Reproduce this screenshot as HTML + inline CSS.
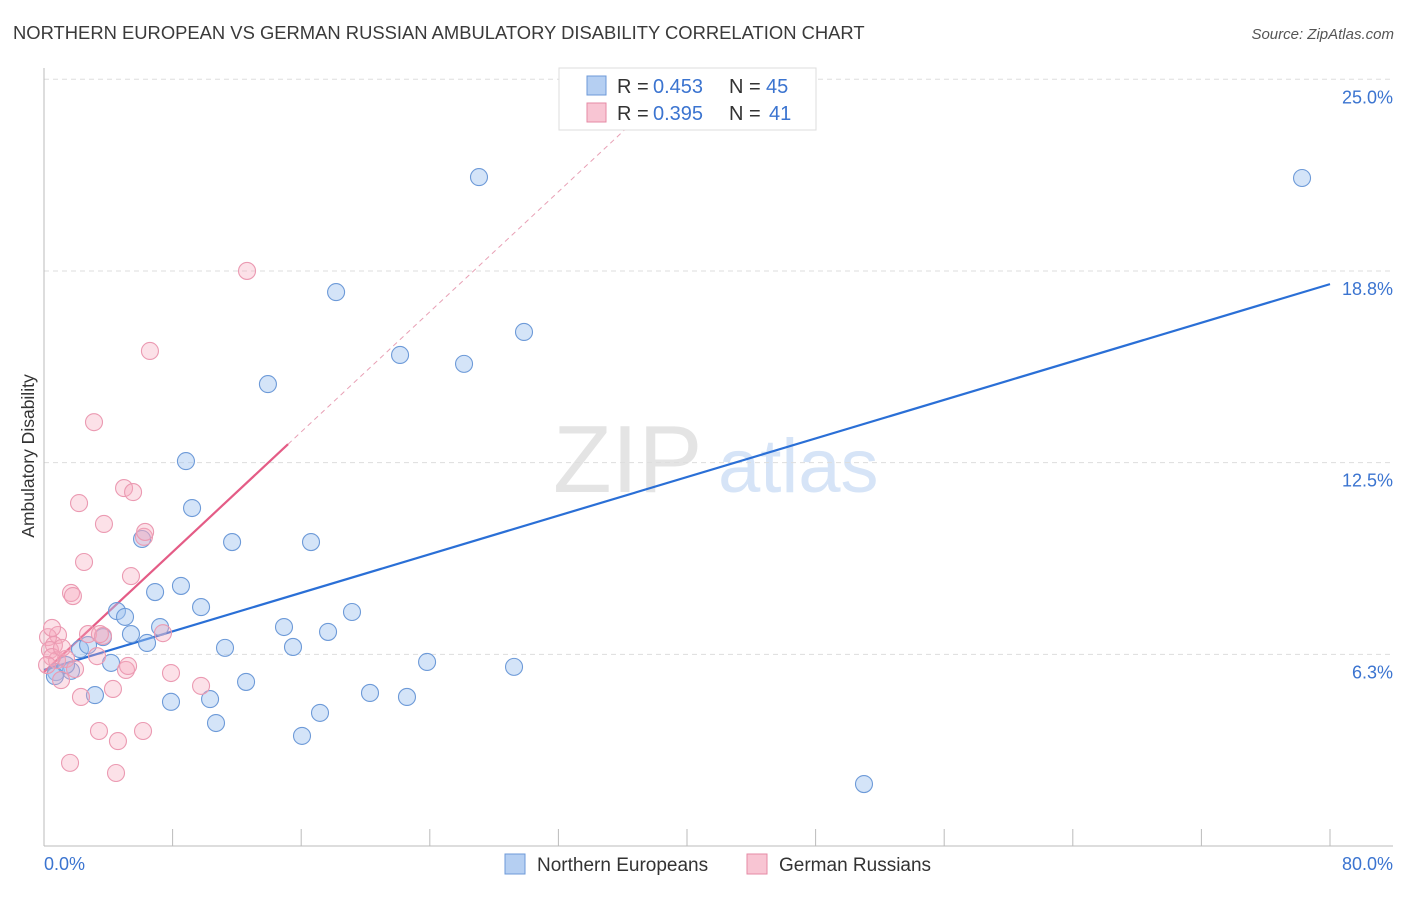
<!DOCTYPE html>
<html><head><meta charset="utf-8"><style>
body{margin:0;background:#fff;font-family:"Liberation Sans",sans-serif}
svg text{font-family:"Liberation Sans",sans-serif}
</style></head><body>
<svg id="chart" width="1406" height="892" viewBox="0 0 1406 892" xmlns="http://www.w3.org/2000/svg">
<text x="13" y="39" font-size="18.4" fill="#3a3a3a">NORTHERN EUROPEAN VS GERMAN RUSSIAN AMBULATORY DISABILITY CORRELATION CHART</text>
<text x="1394" y="39" font-size="15" fill="#555" font-style="italic" text-anchor="end">Source: ZipAtlas.com</text>
<g>
<text x="553" y="492" font-size="96" font-family="Liberation Serif" fill="#e4e4e4">ZIP</text>
<text x="718" y="492" font-size="76" fill="#d6e4f7">atlas</text>
</g>
<g id="grid"></g>
<g id="axes"></g>
<g id="lines"></g>
<g id="points"></g>
<text transform="translate(34,456) rotate(-90)" font-size="17.5" fill="#333" text-anchor="middle">Ambulatory Disability</text>
<g>
<rect x="559" y="68" width="257" height="62" fill="#fff" stroke="#ddd"/>
<rect x="587" y="76" width="19" height="19" fill="#b5cff2" stroke="#6d9ad8"/>
<text x="617" y="93" font-size="20" fill="#333">R =</text>
<text x="653" y="93" font-size="20" fill="#3b74d0">0.453</text>
<text x="729" y="93" font-size="20" fill="#333">N =</text>
<text x="766" y="93" font-size="20" fill="#3b74d0">45</text>
<rect x="587" y="103" width="19" height="19" fill="#f8c5d3" stroke="#e68aa5"/>
<text x="617" y="120" font-size="20" fill="#333">R =</text>
<text x="653" y="120" font-size="20" fill="#3b74d0">0.395</text>
<text x="729" y="120" font-size="20" fill="#333">N =</text>
<text x="769" y="120" font-size="20" fill="#3b74d0">41</text>
</g>
<g>
<rect x="505" y="854" width="20" height="20" fill="#b5cff2" stroke="#6d9ad8"/>
<text x="537" y="871" font-size="19" fill="#333">Northern Europeans</text>
<rect x="747" y="854" width="20" height="20" fill="#f8c5d3" stroke="#e68aa5"/>
<text x="779" y="871" font-size="19" fill="#333">German Russians</text>
</g>
</svg>
<script>
const yTicks=[6.25,12.5,18.75,25];
const yTickLabels=["6.3%","12.5%","18.8%","25.0%"];
const xTickCount=10;
const xLabels=["0.0%","80.0%"];
const blueX=[27.06,78.26,18.17,29.86,22.15,26.13,13.93,8.83,9.21,11.70,16.61,6.10,8.52,6.91,9.77,4.54,5.04,19.16,14.93,7.22,17.67,5.41,6.41,11.26,15.49,3.67,2.24,2.74,4.17,23.83,29.24,0.75,1.68,1.37,12.57,3.17,10.33,7.90,20.28,22.58,17.17,10.70,16.05,51.01,0.68];
const blueY=[21.81,21.78,18.06,16.76,16.01,15.72,15.06,12.55,11.02,9.91,9.91,10.01,8.48,8.28,7.79,7.66,7.47,7.63,7.14,7.14,6.98,6.91,6.62,6.46,6.49,6.81,6.42,6.55,5.97,6.00,5.84,5.67,5.71,5.90,5.35,4.92,4.79,4.70,4.99,4.86,4.34,4.01,3.59,2.02,5.54];
const pinkX=[12.63,6.59,3.11,2.18,3.73,4.98,5.54,6.22,6.29,2.49,5.41,1.68,1.80,7.40,0.87,0.25,2.74,3.67,3.48,0.62,0.37,0.81,3.30,1.37,7.90,1.06,1.93,5.10,5.23,9.77,4.29,2.30,3.42,6.16,4.60,1.62,4.48,0.50,0.19,1.12,0.50];
const pinkY=[18.75,16.14,13.82,11.18,10.50,11.67,11.54,10.08,10.24,9.26,8.80,8.25,8.15,6.94,6.88,6.81,6.91,6.85,6.91,6.55,6.39,6.06,6.19,6.10,5.64,5.41,5.77,5.74,5.87,5.22,5.12,4.86,3.75,3.75,3.42,2.71,2.38,6.16,5.90,6.46,7.11];
const blueTrend=[5.74,18.32];
const pinkTrend=[5.67,13.1,15.18];
const NS="http://www.w3.org/2000/svg";
const X0=44,X1=1330,Y0=846,PXY=30.67;
function xs(v){return X0+(X1-X0)*v/80;}
function ys(v){return Y0-v*PXY;}
function mk(tag,attrs,parent){const e=document.createElementNS(NS,tag);for(const k in attrs)e.setAttribute(k,attrs[k]);document.getElementById(parent).appendChild(e);return e;}
yTicks.forEach((t,i)=>{
 const g=mk('line',{x1:X0,x2:1393,y1:ys(t),y2:ys(t),stroke:'#ddd','stroke-dasharray':'5,4'},'grid');
 
 
 const l=mk('text',{x:1393,y:ys(t)+24,'font-size':18,fill:'#3b74d0','text-anchor':'end'},'axes');
 l.textContent=yTickLabels[i];
 
 
});
const ya=mk('line',{x1:X0,x2:X0,y1:68,y2:Y0,stroke:'#bbb'},'axes');


const xa=mk('line',{x1:X0,x2:1393,y1:Y0,y2:Y0,stroke:'#bbb'},'axes');


for(let i=0;i<=xTickCount;i++){
 const t=mk('line',{x1:xs(i*8),x2:xs(i*8),y1:Y0-17,y2:Y0,stroke:'#bbb'},'axes');
 
 
}
const xl0=mk('text',{x:44,y:870,'font-size':18,fill:'#3b74d0'},'axes');xl0.textContent=xLabels[0];


const xl1=mk('text',{x:1393,y:870,'font-size':18,fill:'#3b74d0','text-anchor':'end'},'axes');xl1.textContent=xLabels[1];


const bl=mk('line',{x1:xs(0),y1:ys(blueTrend[0]),x2:xs(80),y2:ys(blueTrend[1]),stroke:'#2a6fd6','stroke-width':2.2},'lines');


const slope=(pinkTrend[1]-pinkTrend[0])/pinkTrend[2];
const xEnd=(23.5-pinkTrend[0])/slope;
const pd=mk('line',{x1:xs(pinkTrend[2]),y1:ys(pinkTrend[1]),x2:xs(xEnd),y2:ys(23.5),stroke:'#e8a0b5','stroke-width':1,'stroke-dasharray':'5,4'},'lines');


const pl=mk('line',{x1:xs(0),y1:ys(pinkTrend[0]),x2:xs(pinkTrend[2]),y2:ys(pinkTrend[1]),stroke:'#e45c86','stroke-width':2.2},'lines');


blueX.forEach((v,i)=>{
 const c=mk('circle',{cx:xs(v),cy:ys(blueY[i]),r:8.5,fill:'rgba(160,195,240,0.45)',stroke:'#6d9ad8','stroke-width':1.1},'points');
 
 
});
pinkX.forEach((v,i)=>{
 const c=mk('circle',{cx:xs(v),cy:ys(pinkY[i]),r:8.5,fill:'rgba(245,170,190,0.35)',stroke:'#eb9ab2','stroke-width':1.1},'points');
 
 
});
</script>
</body></html>
